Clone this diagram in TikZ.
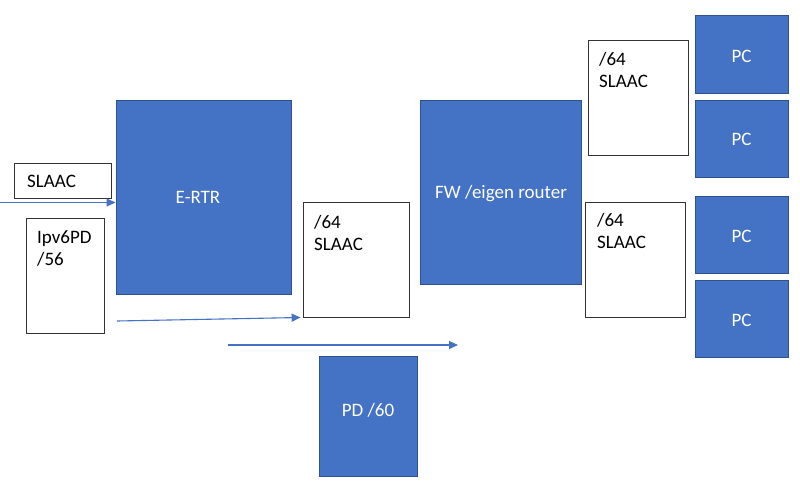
\documentclass[tikz,border=0pt]{standalone}
\usepackage{fontspec}
\setmainfont{Carlito}
\usetikzlibrary{arrows.meta,calc}
\definecolor{blu}{HTML}{4472C4}
\definecolor{bluedge}{HTML}{2F528F}
\begin{document}
\begin{tikzpicture}[x=1pt,y=-1pt,
  bluebox/.style={draw=bluedge, fill=blu, line width=1pt, text=white, inner sep=0pt, font=\fontsize{19}{22}\selectfont},
  whitebox/.style={draw=black!80, fill=white, line width=0.9pt, inner sep=0pt},
  lbl/.style={anchor=north west, inner sep=0pt, align=left, font=\fontsize{19}{22}\selectfont},
  wlbl/.style={text=white, font=\fontsize{19}{22}\selectfont, inner sep=0pt},
  arr/.style={draw=blu, line width=1.1pt, -{Triangle[length=9pt,width=8pt]}}]
\useasboundingbox (0,0) rectangle (800,490);
\fill[white] (0,0) rectangle (800,490);
% white boxes
\node[whitebox, minimum width=97pt, minimum height=35pt] (slaacbox) at (62.5,180.5) {};
\node[lbl] (slaactxt) at (27,175) {SLAAC};
\node[whitebox, minimum width=78pt, minimum height=115pt] (pdbox) at (65,275.5) {};
\node[lbl] (pdtxt) at (37,230) {Ipv6PD\\/56};
\node[whitebox, minimum width=106pt, minimum height=115pt] (mid64) at (356,259.5) {};
\node[lbl] (mid64txt) at (314,215) {/64\\SLAAC};
\node[whitebox, minimum width=100pt, minimum height=115pt] (tr64) at (638,97.5) {};
\node[lbl] (tr64txt) at (599,52) {/64\\SLAAC};
\node[whitebox, minimum width=100pt, minimum height=115pt] (br64) at (635,259.5) {};
\node[lbl] (br64txt) at (597,213) {/64\\SLAAC};
% blue boxes
\node[bluebox, minimum width=175pt, minimum height=194pt] (ertr) at (203.5,197) {};
\node[wlbl] (ertrtxt) at (198,197) {E-RTR};
\node[bluebox, minimum width=161pt, minimum height=184pt] (fw) at (500.5,192) {};
\node[wlbl] (fwtxt) at (501,194) {FW /eigen router};
\node[bluebox, minimum width=98pt, minimum height=120pt] (pd60) at (368,416) {};
\node[wlbl] (pd60txt) at (368,410) {PD /60};
\node[bluebox, minimum width=93pt, minimum height=78pt] (pc1) at (741.5,54) {};
\node[wlbl] (pc1txt) at (741.5,56) {PC};
\node[bluebox, minimum width=93pt, minimum height=77pt] (pc2) at (741.5,138.5) {};
\node[wlbl] (pc2txt) at (741.5,139.5) {PC};
\node[bluebox, minimum width=93pt, minimum height=77pt] (pc3) at (741.5,234.5) {};
\node[wlbl] (pc3txt) at (741.5,236) {PC};
\node[bluebox, minimum width=93pt, minimum height=77pt] (pc4) at (741.5,318.5) {};
\node[wlbl] (pc4txt) at (741.5,320) {PC};
% arrows
\coordinate (a1s) at (0,202.5);
\draw[arr] (a1s) -- (a1s -| ertr.west);
\coordinate (a2s) at (117,321);
\draw[arr, shorten >=2pt] (a2s) -- (mid64.south west);
\coordinate (a3s) at (228,345);
\coordinate (a3e) at (458,345);
\draw[arr] (a3s) -- (a3e);
\end{tikzpicture}
\end{document}
